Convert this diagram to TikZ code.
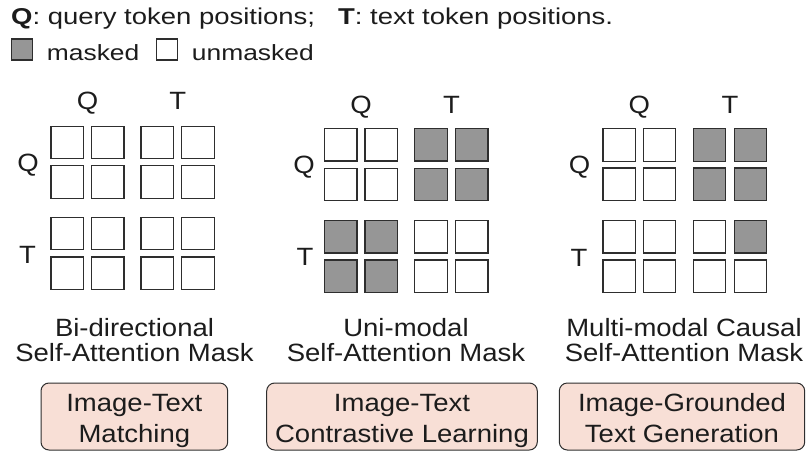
\documentclass[tikz,border=0pt]{standalone}
\usepackage{fontspec}
\setmainfont{Liberation Sans}
\newfontfamily\legendfont[FakeStretch=1.2]{Liberation Sans}
\newfontfamily\labelfont[FakeStretch=1.1]{Liberation Sans}
\usetikzlibrary{calc}
\definecolor{ink}{HTML}{1C1C1C}
\definecolor{cellline}{HTML}{2E2E2E}
\definecolor{maskfill}{HTML}{969696}
\definecolor{taskfill}{HTML}{F8DFD6}

% masked cells of the three attention masks (grid-row-column)
\tikzset{
  mk2-1-3/.style={fill=maskfill}, mk2-1-4/.style={fill=maskfill},
  mk2-2-3/.style={fill=maskfill}, mk2-2-4/.style={fill=maskfill},
  mk2-3-1/.style={fill=maskfill}, mk2-3-2/.style={fill=maskfill},
  mk2-4-1/.style={fill=maskfill}, mk2-4-2/.style={fill=maskfill},
  mk3-1-3/.style={fill=maskfill}, mk3-1-4/.style={fill=maskfill},
  mk3-2-3/.style={fill=maskfill}, mk3-2-4/.style={fill=maskfill},
  mk3-3-4/.style={fill=maskfill},
}

\begin{document}
\begin{tikzpicture}[x=1pt,y=-1pt,
  cell/.style={draw=cellline, line width=1.3pt, minimum size=32.5pt, inner sep=0pt, fill=white},
  legendcell/.style={draw=cellline, line width=1.2pt, minimum size=21pt, inner sep=0pt},
  legendtext/.style={font=\legendfont\fontsize{22}{26}\selectfont, text=ink, inner sep=0pt, anchor=base west},
  axis/.style={font=\labelfont\fontsize{25}{25}\selectfont, text=ink, inner sep=0pt, anchor=base},
  caption/.style={font=\labelfont\fontsize{25}{25.7}\selectfont, align=center, text=ink, inner sep=0pt, anchor=base},
  taskbox/.style={draw=cellline, line width=1pt, rounded corners=8pt, fill=taskfill, inner sep=0pt, minimum height=67pt},
  tasktext/.style={font=\labelfont\fontsize{25}{31}\selectfont, align=center, text=ink, inner sep=0pt, anchor=base},
]
\useasboundingbox (0,0) rectangle (808,452);

% legend
\node[legendtext, font=\legendfont\fontsize{22.9}{26}\selectfont] (keyline) at (11,25)
  {\textbf{Q}: query token positions;\hspace{23pt}\textbf{T}: text token positions.};
\node[legendcell, fill=maskfill] (keymasked) at (22.3,49.5) {};
\node[legendtext] (keymaskedtxt) at (46.7,60) {masked};
\node[legendcell, fill=white] (keyunmasked) at (166.7,49.5) {};
\node[legendtext] (keyunmaskedtxt) at (191.7,60) {unmasked};

% the three 4x4 attention masks
\foreach \g/\xa/\xb/\xc/\xd/\ya/\yb/\yc/\yd in {
  1/67.2/107.7/157.3/198/142.5/182/233.5/273.3,
  2/340.7/381.3/431/471.8/144.8/184.5/236.7/276.3,
  3/619.2/659.5/709.5/750.5/145/184.3/236.8/276.2}{
  \foreach \r/\y in {1/\ya,2/\yb,3/\yc,4/\yd}{
    \foreach \c/\x in {1/\xa,2/\xb,3/\xc,4/\xd}{
      \node[cell, mk\g-\r-\c/.try] (g\g-\r-\c) at (\x,\y) {};
    }
  }
}

% axis labels
\node[axis] (q1top) at (87.5,109.5) {Q};
\node[axis] (t1top) at (177.7,109.5) {T};
\node[axis] (q1side) at (28,171.7) {Q};
\node[axis] (t1side) at (27.5,263.3) {T};

\node[axis] (q2top) at (361,113) {Q};
\node[axis] (t2top) at (451.4,113) {T};
\node[axis] (q2side) at (304,173.3) {Q};
\node[axis] (t2side) at (305,265) {T};

\node[axis] (q3top) at (639.4,113) {Q};
\node[axis] (t3top) at (730,113) {T};
\node[axis] (q3side) at (579.5,173.3) {Q};
\node[axis] (t3side) at (579,266) {T};

% captions (base anchor sits on the last line)
\node[caption] (cap1) at (134.5,361.7) {Bi-directional\\Self-Attention Mask};
\node[caption] (cap2) at (406,361.7) {Uni-modal\\Self-Attention Mask};
\node[caption] (cap3) at (684,361.7) {Multi-modal Causal\\Self-Attention Mask};

% pre-training objectives
\node[taskbox, minimum width=186.7pt] (b1) at (134.35,416.5) {};
\node[taskbox, minimum width=270.6pt] (b2) at (402,416.5) {};
\node[taskbox, minimum width=245.4pt] (b3) at (682,416.5) {};
\node[tasktext] (b1txt) at ($(b1.north)+(0,60)$) {Image-Text\\Matching};
\node[tasktext] (b2txt) at ($(b2.north)+(0,60)$) {Image-Text\\Contrastive Learning};
\node[tasktext] (b3txt) at ($(b3.north)+(0,60)$) {Image-Grounded\\Text Generation};
\end{tikzpicture}
\end{document}
